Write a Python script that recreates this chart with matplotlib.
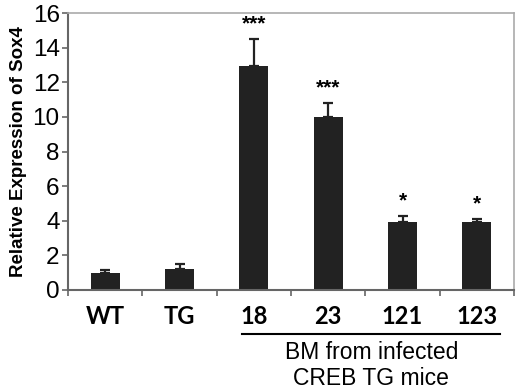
import numpy as np
import matplotlib.pyplot as plt

# values
labels = ['WT', 'TG', '18', '23', '121', '123']
means = [1.0, 1.23, 12.95, 9.98, 3.95, 3.9]
errs = [0.17, 0.27, 1.55, 0.82, 0.35, 0.22]
stars = ['', '', '***', '***', '*', '*']

fig = plt.figure(figsize=(5.2, 3.91), dpi=100)
ax = fig.add_axes([68 / 520, 1 - 290 / 391, 446 / 520, 277 / 391])

x = np.arange(len(labels))
ax.bar(x, means, width=0.39, color='#222222', zorder=2)
ax.errorbar(x, means, yerr=[np.zeros(len(errs)), errs], fmt='none',
            ecolor='#222222', elinewidth=1.6, capsize=3.5, capthick=1.6, zorder=3)

for xi, m, e, s in zip(x, means, errs, stars):
    if s:
        ax.text(xi, m + e + 0.3, s, ha='center', va='bottom',
                fontsize=15, fontweight='bold', family='Liberation Sans')

ax.set_xlim(-0.5, len(labels) - 0.5)
ax.set_ylim(0, 16)
ax.set_yticks(np.arange(0, 17, 2))
ax.tick_params(axis='y', labelsize=17.5, direction='out', length=4, width=1.2,
               color='#666666', pad=2)
for t in ax.get_yticklabels():
    t.set_family('Liberation Sans')

# x ticks between categories, labels at centres
ax.set_xticks(np.arange(-0.5, len(labels), 1))
ax.set_xticklabels([])
ax.set_xticks(x, minor=True)
ax.set_xticklabels(labels, minor=True, fontsize=17, fontweight='bold', family='Lato')
ax.tick_params(axis='x', which='major', direction='out', length=4, width=1.2, color='#666666')
ax.tick_params(axis='x', which='minor', length=0, pad=11)

for side in ['left', 'bottom']:
    ax.spines[side].set_color('#666666')
    ax.spines[side].set_linewidth(1.5)
for side in ['top', 'right']:
    ax.spines[side].set_color('#aaaaaa')
    ax.spines[side].set_linewidth(1.2)

ax.set_ylabel('Relative Expression of Sox4', fontsize=13.5, fontweight='bold',
              family='Liberation Sans', labelpad=4)

# group bracket under the infected samples
ax.plot([1.84, 5.31], [-0.159, -0.159], transform=ax.get_xaxis_transform(),
        color='black', lw=1.5, clip_on=False)
ax.text(3.58, -0.185, 'BM from infected\nCREB TG mice', transform=ax.get_xaxis_transform(),
        ha='center', va='top', fontsize=16.5, family='Liberation Sans', linespacing=1.15)

fig.savefig('out.png', dpi=100)
